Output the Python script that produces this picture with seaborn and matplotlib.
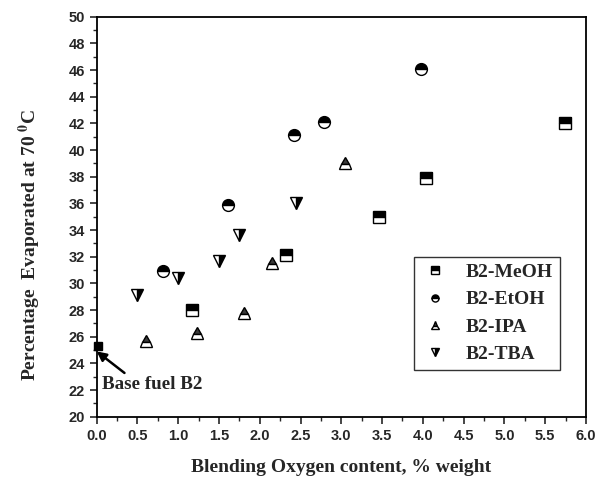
import matplotlib
matplotlib.use("Agg")
import matplotlib.pyplot as plt
import seaborn as sns
from matplotlib.ticker import MultipleLocator, FormatStrFormatter

# Data
meoh_x = [1.17, 2.32, 3.46, 4.04, 5.74]
meoh_y = [28.0, 32.1, 35.0, 37.9, 42.0]
etoh_x = [0.81, 1.61, 2.42, 2.79, 3.98]
etoh_y = [30.95, 35.9, 41.1, 42.1, 46.1]
ipa_x = [0.61, 1.23, 1.81, 2.15, 3.04]
ipa_y = [25.7, 26.3, 27.8, 31.5, 39.05]
tba_x = [0.49, 1.0, 1.5, 1.74, 2.45]
tba_y = [29.1, 30.4, 31.7, 33.6, 36.0]
base_x = [0.02]
base_y = [25.3]

sns.set_style("ticks")
plt.rcParams["font.family"] = ["Liberation Sans", "DejaVu Sans"]
plt.rcParams["mathtext.fontset"] = "stix"

fig = plt.figure(figsize=(5.96, 4.78), dpi=100)
ax = fig.add_axes([0.1622, 0.1282, 0.821, 0.8368])

common = dict(linestyle="", markersize=8.5, markeredgewidth=1.0,
              markeredgecolor="black", markerfacecoloralt="white",
              errorbar=None, sort=False, ax=ax)
sns.lineplot(x=meoh_x, y=meoh_y, marker="s", fillstyle="top", color="black",
             label="B2-MeOH", **common)
sns.lineplot(x=etoh_x, y=etoh_y, marker="o", fillstyle="top", color="black",
             label="B2-EtOH", **common)
sns.lineplot(x=ipa_x, y=ipa_y, marker="^", fillstyle="top", color="#3a3a3a",
             label="B2-IPA", **common)
sns.lineplot(x=tba_x, y=tba_y, marker="v", fillstyle="right", color="black",
             label="B2-TBA", **common)
ax.plot(base_x, base_y, marker="s", color="black", linestyle="", markersize=6,
        clip_on=False, zorder=5)

ax.annotate("Base fuel B2", xy=(0.0, 24.9), xytext=(0.06, 22.4),
            fontsize=13.8, fontweight="bold", family="Liberation Serif",
            va="center", ha="left",
            arrowprops=dict(arrowstyle="-|>", color="black", lw=1.8,
                            shrinkA=0, shrinkB=0, relpos=(0.27, 1.0)))

ax.set_xlim(0, 6)
ax.set_ylim(20, 50)
ax.xaxis.set_major_locator(MultipleLocator(0.5))
ax.xaxis.set_minor_locator(MultipleLocator(0.25))
ax.xaxis.set_major_formatter(FormatStrFormatter("%.1f"))
ax.yaxis.set_major_locator(MultipleLocator(2))
ax.yaxis.set_minor_locator(MultipleLocator(1))
ax.tick_params(which="major", length=5, width=1.2, labelsize=10.5, direction="out")
ax.tick_params(which="minor", length=3, width=1.0, direction="out")
for lab in ax.get_xticklabels() + ax.get_yticklabels():
    lab.set_fontweight("bold")
for s in ax.spines.values():
    s.set_linewidth(1.3)
    s.set_color("black")

ax.set_xlabel("Blending Oxygen content, % weight", fontsize=14, fontweight="bold",
              family="Liberation Serif", labelpad=12)
ax.set_ylabel(r"Percentage  Evaporated at 70 $\mathbf{^{0}}$C", fontsize=14,
              fontweight="bold", family="Liberation Serif")
ax.yaxis.set_label_coords(-0.11, 0.43)

leg = ax.legend(loc="lower right", bbox_to_anchor=(0.946, 0.117), borderaxespad=0,
                frameon=True, fancybox=False, edgecolor="black", markerscale=0.6,
                prop={"family": "Liberation Serif", "weight": "bold", "size": 14},
                handlelength=1.5, handletextpad=0.8, labelspacing=0.5,
                borderpad=0.35)
leg.get_frame().set_linewidth(1.0)

fig.savefig("out.png", dpi=100)
